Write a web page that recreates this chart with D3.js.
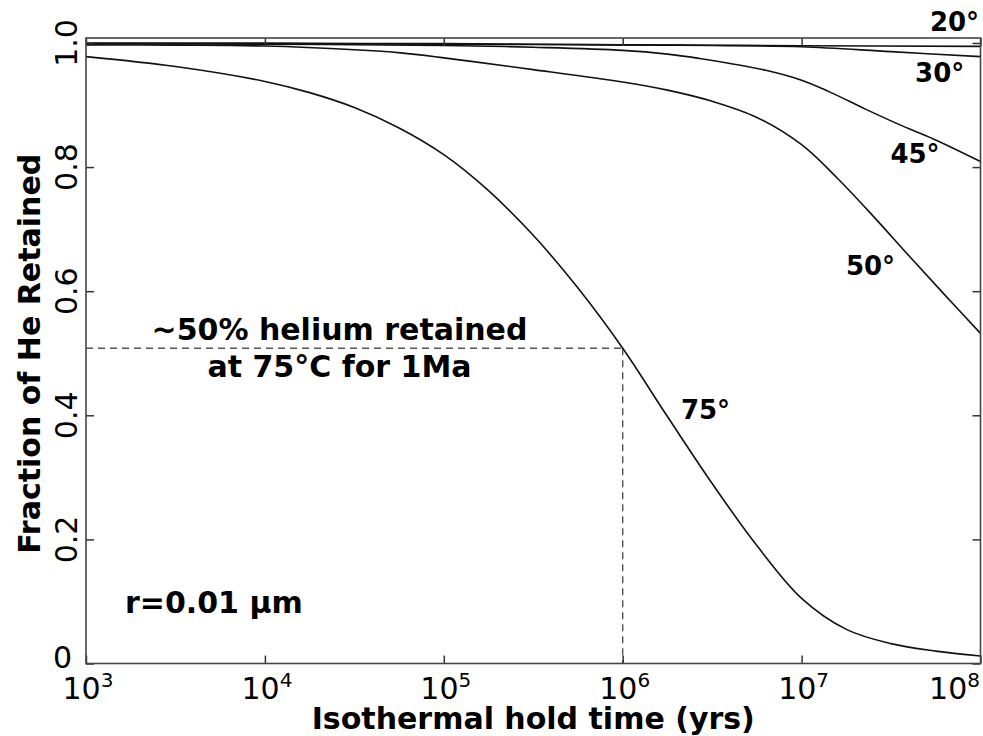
<!DOCTYPE html>
<html>
<head>
<meta charset="utf-8">
<script src="https://cdn.jsdelivr.net/npm/d3@7"></script>
<style>
  html, body { margin: 0; padding: 0; background: #fff; }
  svg { display: block; }
  text { font-family: "DejaVu Sans", "Liberation Sans", sans-serif; fill: #000; }
</style>
</head>
<body>
<svg id="chart" width="983" height="736"></svg>
<script>
// ---- data ----
const seriesNames = ["20°", "30°", "45°", "50°", "75°"];
// log10 of isothermal hold time (yrs)
const logT20 = [3.0, 4.0, 5.0, 6.0, 7.0, 8.0];
const frac20 = [0.9995, 0.9993, 0.998, 0.997, 0.9955, 0.9945];
const logT30 = [3.0, 4.0, 5.0, 5.5, 6.0, 6.5, 7.0, 7.5, 8.0];
const frac30 = [0.9995, 0.9993, 0.999, 0.998, 0.997, 0.996, 0.994, 0.986, 0.978];
const logT45 = [3.0, 4.0, 5.0, 5.5, 6.0, 6.25, 6.43, 6.6, 6.8, 7.0, 7.15, 7.36, 7.55, 7.74, 8.0];
const frac45 = [0.999, 0.998, 0.996, 0.993, 0.988, 0.982, 0.975, 0.967, 0.956, 0.940, 0.922, 0.893, 0.868, 0.845, 0.809];
const logT50 = [3.0, 3.5, 4.0, 4.5, 4.76, 5.0, 5.37, 5.5, 6.0, 6.25, 6.5, 6.75, 7.0, 7.2, 7.4, 7.6, 7.8, 8.0];
const frac50 = [0.997, 0.9965, 0.995, 0.989, 0.984, 0.976, 0.962, 0.957, 0.937, 0.924, 0.906, 0.880, 0.836, 0.782, 0.721, 0.657, 0.594, 0.532];
const logT75 = [3.0, 3.5, 4.0, 4.25, 4.5, 4.75, 5.0, 5.25, 5.5, 5.75, 6.0, 6.25, 6.5, 6.75, 7.0, 7.25, 7.5, 7.75, 8.0];
const frac75 = [0.978, 0.962, 0.938, 0.920, 0.896, 0.863, 0.820, 0.762, 0.690, 0.605, 0.508, 0.398, 0.290, 0.190, 0.105, 0.055, 0.032, 0.020, 0.012];

const xTickExps = [3, 4, 5, 6, 7, 8];
const yTicks = [0, 0.2, 0.4, 0.6, 0.8, 1.0];
const yTickLabels = ["0", "0.2", "0.4", "0.6", "0.8", "1.0"];
const refTime = 1e6;      // 1 Ma
const refFrac = 0.508;    // ~50% retained

// ---- chart ----
const svg = d3.select("#chart");
const W = 983, H = 736;
svg.append("rect").attr("width", W).attr("height", H).attr("fill", "#fff");

const pLeft = 86, pRight = 980.5, pTop = 38, pBottom = 663.5;
const x = d3.scaleLog().domain([1e3, 1e8]).range([pLeft, pRight]);
const y = d3.scaleLinear().domain([0, 1.008]).range([pBottom, pTop]);

const g = svg.append("g");

// dashed reference lines
g.append("line")
  .attr("x1", x(1e3)).attr("x2", x(refTime))
  .attr("y1", y(refFrac)).attr("y2", y(refFrac))
  .attr("stroke", "#555").attr("stroke-width", 1.4).attr("stroke-dasharray", "7,5");
g.append("line")
  .attr("x1", x(refTime)).attr("x2", x(refTime))
  .attr("y1", y(refFrac)).attr("y2", y(0))
  .attr("stroke", "#555").attr("stroke-width", 1.4).attr("stroke-dasharray", "7,5");

// curves
const series = [
  { name: "20°", lt: logT20, f: frac20 },
  { name: "30°", lt: logT30, f: frac30 },
  { name: "45°", lt: logT45, f: frac45 },
  { name: "50°", lt: logT50, f: frac50 },
  { name: "75°", lt: logT75, f: frac75 }
];
const line = d3.line()
  .x(d => x(d[0]))
  .y(d => y(d[1]))
  .curve(d3.curveCatmullRom.alpha(0.5));

g.selectAll("path.curve")
  .data(series)
  .join("path")
  .attr("class", "curve")
  .attr("fill", "none")
  .attr("stroke", "#111")
  .attr("stroke-width", 1.6)
  .attr("d", s => line(s.lt.map((e, i) => [Math.pow(10, e), s.f[i]])));

// axes (inward ticks on all four sides)
const xTickVals = xTickExps.map(e => Math.pow(10, e));
const axStyle = sel => {
  sel.select(".domain").remove();
  sel.selectAll(".tick line").attr("stroke", "#333").attr("stroke-width", 1.5);
  sel.selectAll(".tick text").remove();
};
svg.append("g").attr("transform", `translate(0,${pBottom})`)
  .call(d3.axisBottom(x).tickValues(xTickVals).tickSize(-8)).call(axStyle);
svg.append("g").attr("transform", `translate(0,${pTop})`)
  .call(d3.axisTop(x).tickValues(xTickVals).tickSize(-8)).call(axStyle);
svg.append("g").attr("transform", `translate(${pLeft},0)`)
  .call(d3.axisLeft(y).tickValues(yTicks).tickSize(-8)).call(axStyle);
svg.append("g").attr("transform", `translate(${pRight},0)`)
  .call(d3.axisRight(y).tickValues(yTicks).tickSize(-8)).call(axStyle);

// frame
svg.append("rect")
  .attr("x", pLeft).attr("y", pTop)
  .attr("width", pRight - pLeft).attr("height", pBottom - pTop)
  .attr("fill", "none").attr("stroke", "#444").attr("stroke-width", 1.6);

// x tick labels with superscripts
const xl = svg.append("g");
xTickExps.forEach((e, i) => {
  const last = i === xTickExps.length - 1;
  const t = xl.append("text")
    .attr("x", last ? 980 : x(Math.pow(10, e)) + 2)
    .attr("y", 699)
    .attr("text-anchor", last ? "end" : "middle")
    .attr("font-size", 30);
  t.append("tspan").text("10");
  t.append("tspan").attr("font-size", 20).attr("dy", -12).text(String(e));
});

// y tick labels (rotated, except 0)
yTicks.forEach((v, i) => {
  if (v === 0) {
    svg.append("text").attr("x", 72).attr("y", 668)
      .attr("text-anchor", "end").attr("font-size", 30).text(yTickLabels[i]);
  } else {
    svg.append("text")
      .attr("transform", `translate(77,${y(v)}) rotate(-90)`)
      .attr("text-anchor", "middle")
      .attr("font-size", 30)
      .text(yTickLabels[i]);
  }
});

// axis titles
svg.append("text")
  .attr("x", (pLeft + pRight) / 2).attr("y", 729)
  .attr("text-anchor", "middle")
  .attr("font-size", 30).attr("font-weight", "bold")
  .text("Isothermal hold time (yrs)");
svg.append("text")
  .attr("transform", `translate(40,${(pTop + pBottom) / 2 + 3}) rotate(-90)`)
  .attr("text-anchor", "middle")
  .attr("font-size", 30).attr("font-weight", "bold")
  .text("Fraction of He Retained");

// curve labels
const labels = [
  { text: "20°", x: 954.5, y: 31 },
  { text: "30°", x: 939.7, y: 82 },
  { text: "45°", x: 915, y: 163 },
  { text: "50°", x: 870.5, y: 275 },
  { text: "75°", x: 705.5, y: 419 }
];
svg.selectAll("text.clabel")
  .data(labels)
  .join("text")
  .attr("class", "clabel")
  .attr("x", d => d.x).attr("y", d => d.y)
  .attr("text-anchor", "middle")
  .attr("font-size", 26).attr("font-weight", "bold")
  .text(d => d.text);

// annotations
svg.append("text").attr("x", 339.5).attr("y", 340)
  .attr("text-anchor", "middle").attr("font-size", 30).attr("font-weight", "bold")
  .text("~50% helium retained");
svg.append("text").attr("x", 339.5).attr("y", 377)
  .attr("text-anchor", "middle").attr("font-size", 30).attr("font-weight", "bold")
  .text("at 75°C for 1Ma");
svg.append("text").attr("x", 125).attr("y", 613)
  .attr("font-size", 30).attr("font-weight", "bold")
  .text("r=0.01 µm");
</script>
</body>
</html>
